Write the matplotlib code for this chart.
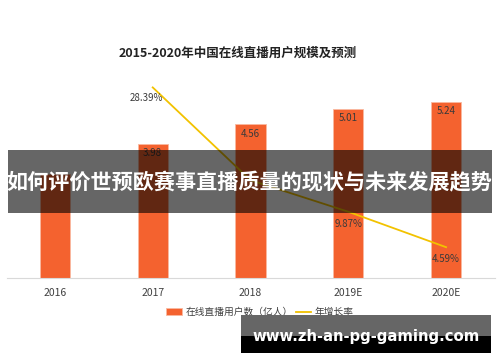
import numpy as np
import matplotlib.pyplot as plt
from matplotlib.patches import Rectangle

plt.rcParams['font.family'] = ['Noto Sans CJK SC', 'DejaVu Sans']

years = ['2016', '2017', '2018', '2019E', '2020E']
users = [3.10, 3.98, 4.56, 5.01, 5.24]
growth = [np.nan, 28.39, 14.57, 9.87, 4.59]
growth_labels = ['', '28.39%', '', '9.87%', '4.59%']

bar_c = '#F4622F'
line_c = '#F2C200'

W, H = 500, 362
fig = plt.figure(figsize=(5, 3.62), dpi=100)
ax = fig.add_axes([7 / W, 1 - 278 / H, 488 / W, 202 / H])
x = np.arange(len(years))

ax.bar(x, users, width=0.31, color=bar_c, edgecolor='#F9B9A0', linewidth=0.6,
       label='在线直播用户数（亿人）', zorder=2)
# the 2016 label is hidden under the banner in the original
for i, v in enumerate(users[1:], start=1):
    ax.text(i, v - 0.12, f'{v:.2f}', ha='center', va='top', fontsize=7, color='#3a3a3a', zorder=3)
ax.set_xlim(-0.49, 4.5)
ax.set_ylim(0, 6)
ax.set_yticks([])
ax.set_xticks(x)
ax.set_xticklabels(years, fontsize=7.5, color='#404040')
ax.tick_params(axis='x', length=0, pad=7)
for s in ['top', 'right', 'left']:
    ax.spines[s].set_visible(False)
ax.spines['bottom'].set_color('#d9d9d9')

ax2 = ax.twinx()
ax2.plot(x, growth, color=line_c, linewidth=1.3, label='年增长率', zorder=4)
ax2.set_ylim(0, 30.09)
ax2.set_yticks([])
for s in ['top', 'right', 'left', 'bottom']:
    ax2.spines[s].set_visible(False)
offs = [(0, 0), (-0.07, -1.6), (0.0, -1.6), (0.0, -1.8), (0.0, -1.8)]
for i, t in enumerate(growth_labels):
    if t:
        ax2.text(i + offs[i][0], growth[i] + offs[i][1], t, ha='center', va='center',
                 fontsize=7, color='#3a3a3a', zorder=5)

h1, l1 = ax.get_legend_handles_labels()
h2, l2 = ax2.get_legend_handles_labels()
fig.legend(h1 + h2, l1 + l2, loc='center', bbox_to_anchor=(260 / W, 1 - 312 / H),
           ncol=2, frameon=False, fontsize=7, handlelength=1.6, columnspacing=0.3,
           handletextpad=0.4, labelcolor='#404040')

fig.text(238 / W, 1 - 53 / H, '2015-2020年中国在线直播用户规模及预测', ha='center', va='center',
         fontsize=9, fontweight='bold', color='#222222')

# banner overlay
fig.add_artist(Rectangle((8 / W, 1 - 213 / H), 484 / W, 63 / H, transform=fig.transFigure,
                         facecolor='black', alpha=0.6, edgecolor='none', zorder=10))
fig.text(249 / W, 1 - 183 / H, '如何评价世预欧赛事直播质量的现状与未来发展趋势', ha='center', va='center',
         fontsize=15.2, fontweight='bold', color='white', zorder=11)

# watermark
fig.add_artist(Rectangle((241 / W, 1 - 336 / H), 250 / W, 21 / H, transform=fig.transFigure,
                         facecolor='#666666', edgecolor='none', zorder=10))
fig.add_artist(Rectangle((241 / W, 1 - 353 / H), 250 / W, 17 / H, transform=fig.transFigure,
                         facecolor='black', edgecolor='none', zorder=10))
fig.text(366 / W, 1 - 337 / H, 'www.zh-an-pg-gaming.com', ha='center', va='center',
         fontsize=10.7, fontweight='bold', color='white', family='DejaVu Sans', zorder=11)

fig.savefig('out.png', dpi=100)
